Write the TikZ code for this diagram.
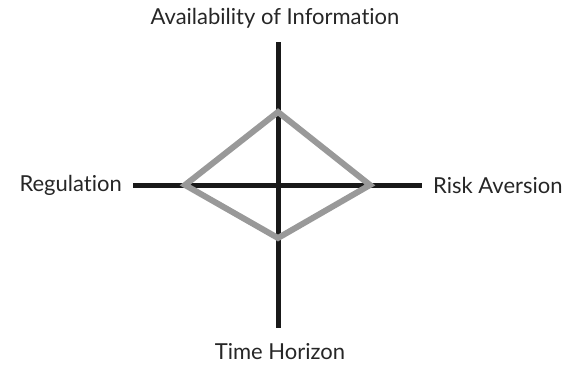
\documentclass[tikz,border=0pt]{standalone}
\usepackage{fontspec}
\setmainfont[Ligatures=NoCommon]{Lato}
\usetikzlibrary{positioning}
\tikzset{
  axisline/.style={line width=5pt, draw=black!90},
  kite/.style={line width=6pt, draw=black!40, line join=miter},
  axislabel/.style={font=\fontsize{22}{26}\selectfont, text=black!85, inner sep=0pt}
}
\begin{document}
\begin{tikzpicture}[x=1pt,y=-1pt]
\useasboundingbox (0,0) rectangle (570,367);
\coordinate (top) at (278,42);
\coordinate (bottom) at (278,328);
\coordinate (left) at (133,185);
\coordinate (right) at (422,185);
\draw[axisline] (top) -- (bottom);
\draw[axisline] (left) -- (right);
\coordinate (kn) at (278,112);
\coordinate (kw) at (185,185);
\coordinate (ke) at (370,185);
\coordinate (ks) at (278,238);
\draw[kite] (kn) -- (ke) -- (ks) -- (kw) -- cycle;
\node[axislabel] (info) at (275,18) {Availability of Information};
\node[axislabel, anchor=east] (reg) at (122,185) {Regulation};
\node[axislabel, anchor=west] (risk) at (433,185) {Risk Aversion};
\node[axislabel] (time) at (280,352) {Time Horizon};
\end{tikzpicture}
\end{document}
